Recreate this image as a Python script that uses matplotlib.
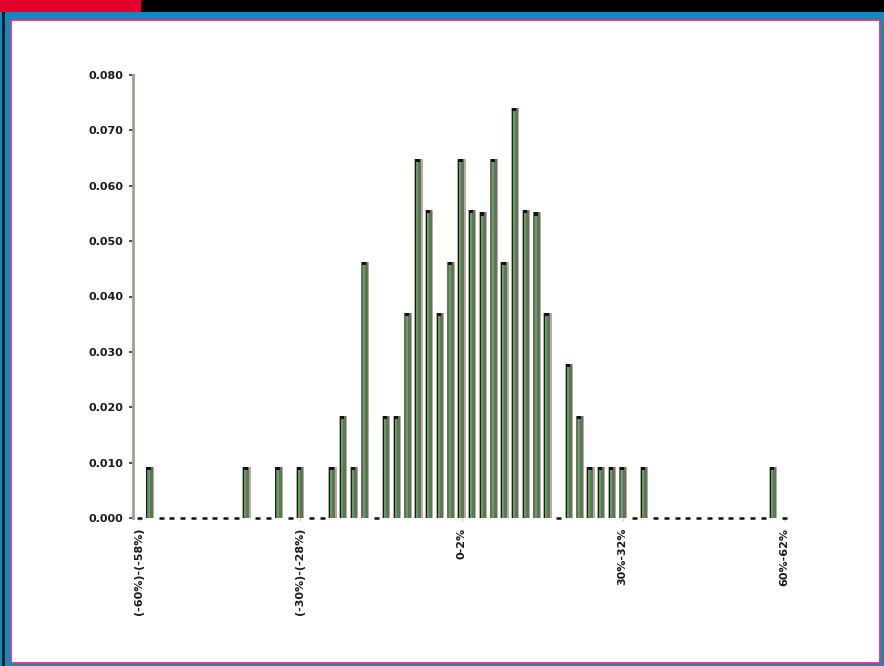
import numpy as np
import matplotlib
matplotlib.use("Agg")
import matplotlib.pyplot as plt
from matplotlib.patches import Rectangle

# ---- data ----
# relative frequency per 2% return bin, from (-60%)-(-58%) up to 60%-62%
freq = [0.0, 0.0093, 0.0, 0.0, 0.0, 0.0, 0.0, 0.0, 0.0, 0.0,
        0.0093, 0.0, 0.0, 0.0093, 0.0, 0.0093, 0.0, 0.0, 0.0093, 0.0185,
        0.0093, 0.0463, 0.0, 0.0185, 0.0185, 0.0370, 0.0648, 0.0556, 0.0370, 0.0463,
        0.0648, 0.0556, 0.0552, 0.0648, 0.0463, 0.0741, 0.0556, 0.0552, 0.0370, 0.0,
        0.0278, 0.0185, 0.0093, 0.0093, 0.0093, 0.0093, 0.0, 0.0093, 0.0, 0.0,
        0.0, 0.0, 0.0, 0.0, 0.0, 0.0, 0.0, 0.0, 0.0, 0.0093,
        0.0]
xtick_idx = [0, 15, 30, 45, 60]
xtick_labels = ["(-60%)-(-58%)", "(-30%)-(-28%)", "0-2%", "30%-32%", "60%-62%"]
ytick_vals = [0.0, 0.01, 0.02, 0.03, 0.04, 0.05, 0.06, 0.07, 0.08]
ytick_labels = ["0.000", "0.010", "0.020", "0.030", "0.040", "0.050", "0.060", "0.070", "0.080"]

W, H = 884, 666
fig = plt.figure(figsize=(W / 100, H / 100), dpi=100)
fig.patch.set_facecolor("#0a8bc4")

def prect(x0, y0, x1, y1, **kw):
    """rectangle given in pixel coordinates from top-left"""
    r = Rectangle((x0 / W, 1 - y1 / H), (x1 - x0) / W, (y1 - y0) / H,
                  transform=fig.transFigure, **kw)
    fig.add_artist(r)
    return r

# frame
prect(0, 0, W, 12, facecolor="black", edgecolor="none", zorder=0)
prect(0, 0, 141, 12, facecolor="#e2002b", edgecolor="none", zorder=0)
prect(2, 12, 4.5, H, facecolor="#1a1a1a", edgecolor="none", zorder=0)
prect(10.5, 20, 880, 662.5, facecolor="white", edgecolor="#e8336b",
      linewidth=1.3, zorder=0)

# axes
ax = fig.add_axes([133 / W, 1 - 518 / H, (790.5 - 133) / W, (518 - 75) / H])
ax.set_facecolor("none")
x = np.arange(len(freq))
vals = np.array(freq)
nz = vals > 0

cap = 0.0004
ax.bar(x[nz], vals[nz], width=0.78, color="#b5ada3", edgecolor="none", zorder=2)
ax.bar(x[nz] - 0.02, vals[nz], width=0.58, color="#6c6c60", edgecolor="none", zorder=3)
ax.bar(x[nz] - 0.26, vals[nz], width=0.09, color="#1a1a1a", edgecolor="none", zorder=4)
ax.bar(x[nz] - 0.11, vals[nz] - cap, width=0.19, color="#52aa55", edgecolor="none", zorder=4)
ax.bar(x[nz] - 0.08, np.full(nz.sum(), cap * 1.5), bottom=vals[nz] - cap * 1.5,
       width=0.38, color="#111111", edgecolor="none", zorder=5)

# zero bins drawn as small dashes
ax.plot(x[~nz], vals[~nz], ls="none", marker="_", markersize=3.6,
        markeredgewidth=1.8, color="#111111", clip_on=False, zorder=5)

ax.set_xlim(-0.56, 60.6)
ax.set_ylim(0, 0.08)

for s in ["top", "right", "bottom"]:
    ax.spines[s].set_visible(False)
ax.spines["left"].set_color("#a59e93")
ax.spines["left"].set_linewidth(2)

tick_font = dict(family="DejaVu Sans", weight="bold", size=8)
ax.set_yticks(ytick_vals)
ax.set_yticklabels(ytick_labels, **tick_font)
ax.tick_params(axis="y", length=3, width=1.2, color="#333333", pad=4, labelcolor="#1a1a1a")
ax.set_xticks(xtick_idx)
ax.set_xticklabels(xtick_labels, rotation=90, va="top", ha="center", **tick_font)
ax.tick_params(axis="x", length=2, width=1, color="#cccccc", pad=5, labelcolor="#1a1a1a")

fig.savefig("out.png", dpi=100, facecolor=fig.get_facecolor())
